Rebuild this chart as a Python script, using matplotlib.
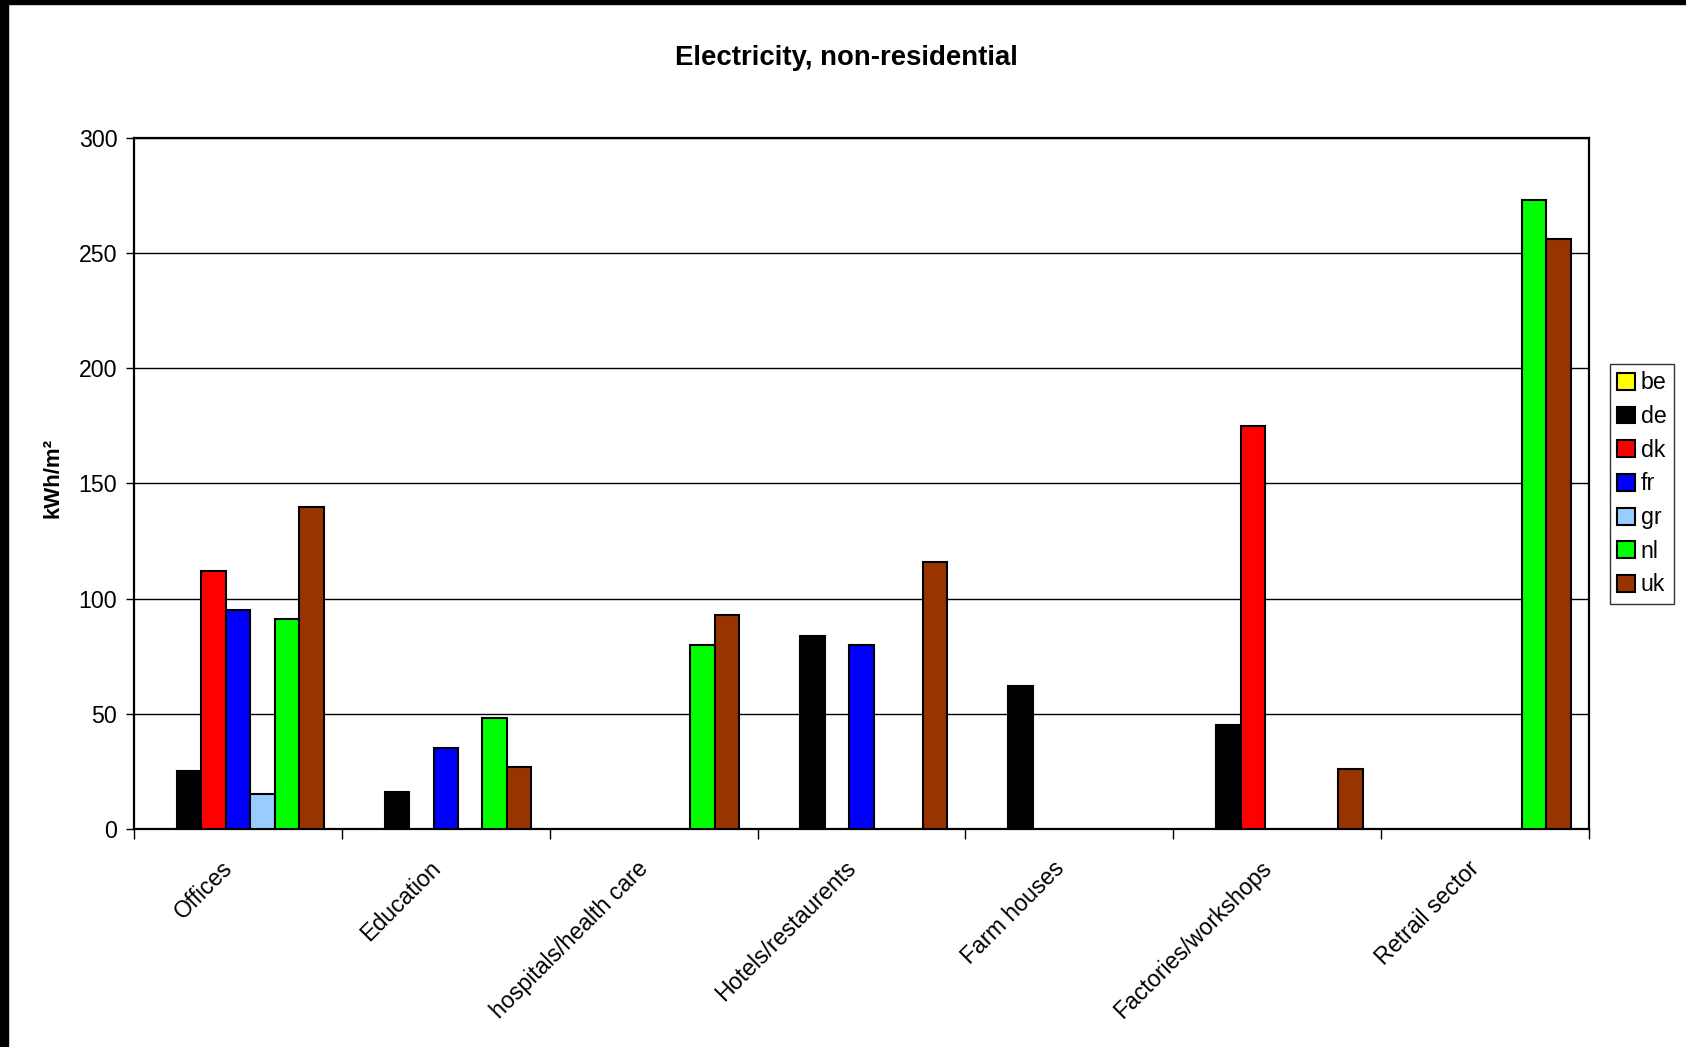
import matplotlib
matplotlib.use("Agg")
import matplotlib.pyplot as plt
import matplotlib.transforms as mtransforms
import numpy as np
from matplotlib.patches import Rectangle

plt.rcParams['font.family'] = ['Liberation Sans', 'DejaVu Sans']

categories = ["Offices", "Education", "hospitals/health care", "Hotels/restaurents",
              "Farm houses", "Factories/workshops", "Retrail sector"]
countries = ["be", "de", "dk", "fr", "gr", "nl", "uk"]
colors = ["#FFFF00", "#000000", "#FF0000", "#0000FF", "#99CCFF", "#00FF00", "#993300"]

# kWh/m² per category for each country (nan = no data)
nan = np.nan
be = [nan, nan, nan, nan, nan, nan, nan]
de = [25, 16, nan, 84, 62, 45, nan]
dk = [112, nan, nan, nan, nan, 175, nan]
fr = [95, 35, nan, 80, nan, nan, nan]
gr = [15, nan, nan, nan, nan, nan, nan]
nl = [91, 48, 80, nan, nan, nan, 273]
uk = [140, 27, 93, 116, nan, 26, 256]
series = [be, de, dk, fr, gr, nl, uk]

W, H = 1686, 1047
fig = plt.figure(figsize=(W / 100, H / 100), dpi=100)
ax = fig.add_axes([134 / W, 1 - 829 / H, (1589 - 134) / W, (829 - 138) / H])

n = len(countries)
bw = 1.0 / (n + 1.5)
x = np.arange(len(categories))
for i, (name, vals, c) in enumerate(zip(countries, series, colors)):
    offs = -0.5 + 0.75 * bw + i * bw + bw / 2
    ax.bar(x + offs, vals, width=bw, color=c, edgecolor="black", linewidth=1.5,
           label=name, zorder=3)

ax.set_xlim(-0.5, len(categories) - 0.5)
ax.set_ylim(0, 300)
ax.set_yticks(np.arange(0, 301, 50))
ax.tick_params(axis='y', labelsize=16.7, length=6, width=1, direction='out', pad=6)
ax.yaxis.grid(True, color="black", linewidth=1)
ax.set_axisbelow(True)

ax.set_xticks(np.arange(len(categories) + 1) - 0.5)
ax.set_xticklabels([])
ax.tick_params(axis='x', which='major', length=7, width=1, direction='out')
ax.set_xticks(x, minor=True)
ax.set_xticklabels(categories, minor=True, rotation=45, ha='right', va='top',
                   rotation_mode='anchor', fontsize=16.7)
ax.tick_params(axis='x', which='minor', length=0, pad=20)
shift = mtransforms.ScaledTranslation(-17 / 100, 0, fig.dpi_scale_trans)
for lbl in ax.get_xticklabels(minor=True):
    lbl.set_transform(lbl.get_transform() + shift)

for s in ax.spines.values():
    s.set_linewidth(1.6)

fig.text(53 / W, 1 - 478 / H, "kWh/m²", rotation=90, ha='center', va='center',
         fontsize=16, fontweight='bold')

fig.text(0.502, 1 - 58 / H, "Electricity, non-residential", ha='center', va='center',
         fontsize=19.8, fontweight='bold')

leg = fig.legend(loc='upper left', bbox_to_anchor=(1610 / W, 1 - 364 / H),
                 fontsize=16.7, frameon=True, fancybox=False, edgecolor="black",
                 handlelength=0.75, handleheight=0.75, handletextpad=0.25,
                 labelspacing=0.46, borderpad=0.32, borderaxespad=0)
leg.get_frame().set_linewidth(1)

# black frame strips along the left and top edges
fig.patches.append(Rectangle((0, 0), 8 / W, 1, transform=fig.transFigure,
                             color="black", zorder=10))
fig.patches.append(Rectangle((0, 1 - 4 / H), 1, 4 / H, transform=fig.transFigure,
                             color="black", zorder=10))

fig.savefig("out.png", dpi=100, facecolor="white")
